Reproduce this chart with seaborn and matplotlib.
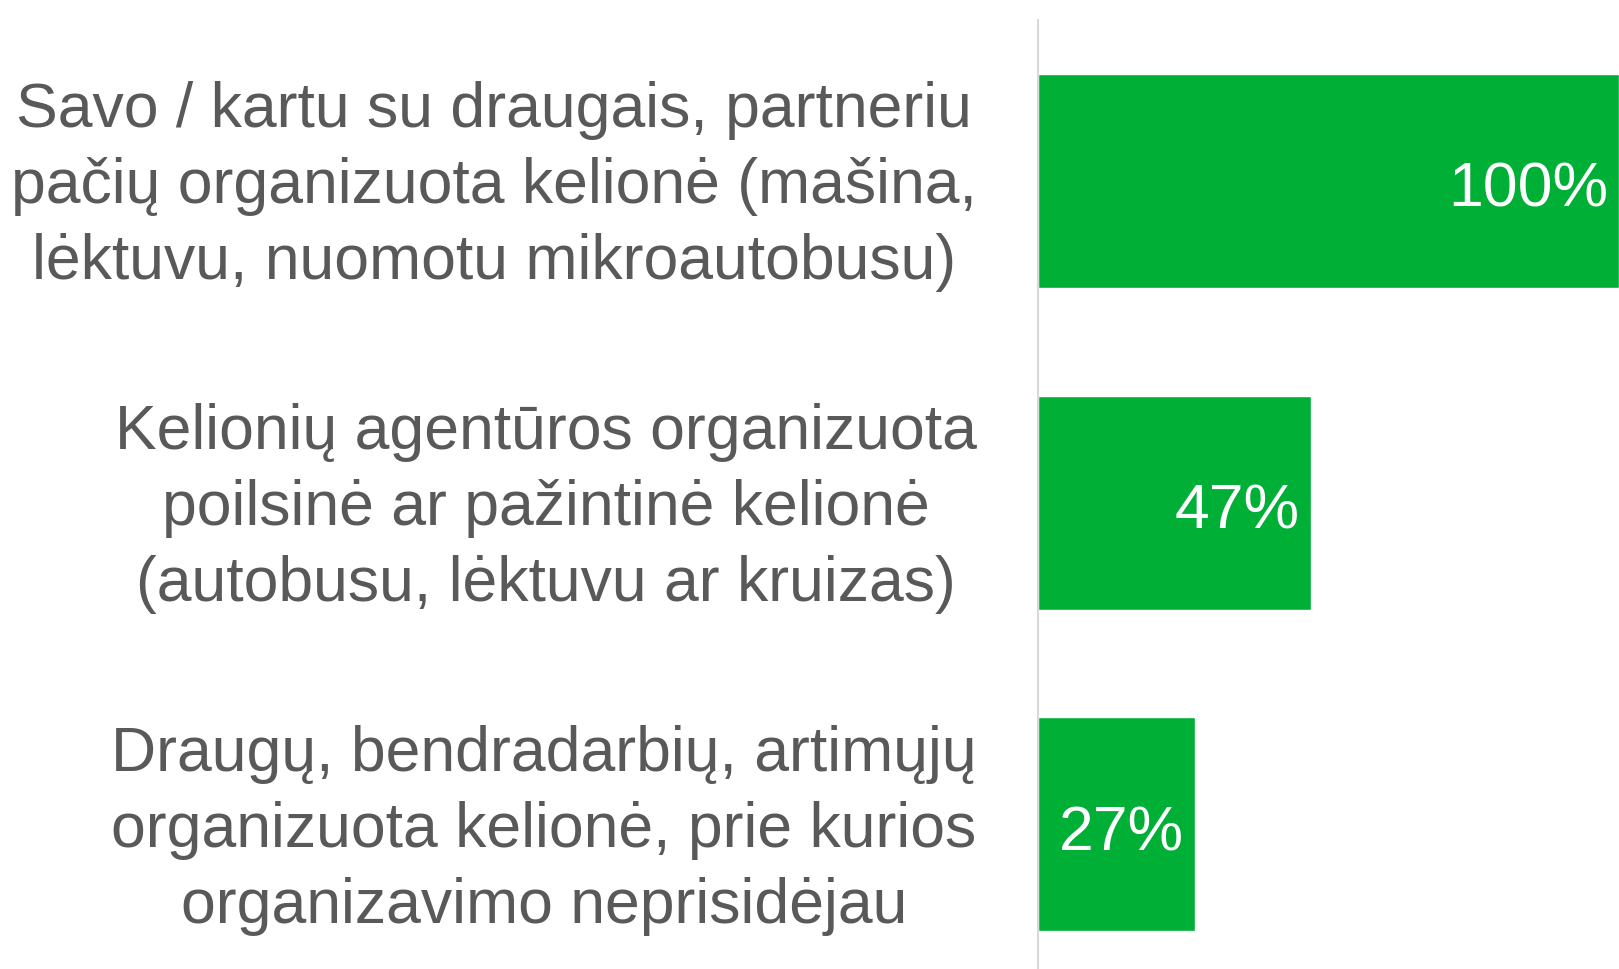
import matplotlib
matplotlib.use("Agg")
import matplotlib.pyplot as plt
import matplotlib.transforms as mtransforms
import seaborn as sns
import pandas as pd

# duomenys
kategorijos = [
    "Savo / kartu su draugais, partneriu\npačių organizuota kelionė (mašina,\nlėktuvu, nuomotu mikroautobusu)",
    "Kelionių agentūros organizuota\npoilsinė ar pažintinė kelionė\n(autobusu, lėktuvu ar kruizas)",
    "Draugų, bendradarbių, artimųjų\norganizuota kelionė, prie kurios\norganizavimo neprisidėjau",
]
reiksmes = [100, 47, 27]
etiketes = ["100%", "47%", "27%"]

sns.set_style("white")
plt.rcParams['font.family'] = ['Liberation Sans', 'DejaVu Sans']

df = pd.DataFrame({"kategorija": kategorijos, "reiksme": reiksmes})

fig = plt.figure(figsize=(16.19, 9.70), dpi=100)
ax = fig.add_axes([1038 / 1619, 0.0, 1 - 1038 / 1619, 1 - 21 / 970])

sns.barplot(data=df, x="reiksme", y="kategorija", orient="h", color="#00B036",
            saturation=1, width=0.665, ax=ax)

ax.set_xlim(0, 100)
ax.set_ylim(2.45, -0.5)
ax.set_xlabel("")
ax.set_ylabel("")
ax.xaxis.set_visible(False)

for s in ["top", "right", "bottom"]:
    ax.spines[s].set_visible(False)
ax.spines["left"].set_color("#d9d9d9")
ax.spines["left"].set_linewidth(1.5)

ax.tick_params(axis="y", length=0, pad=44, labelsize=45, labelcolor="#595959")
pakelti = mtransforms.ScaledTranslation(0, 10 / 100, fig.dpi_scale_trans)
for lbl in ax.get_yticklabels():
    lbl.set_multialignment("center")
    lbl.set_linespacing(1.37)
    lbl.set_transform(lbl.get_transform() + pakelti)

# procentai baru viduje, prie galo
for p, lab in zip(ax.patches, etiketes):
    ax.annotate(lab, (p.get_width(), p.get_y() + p.get_height() / 2),
                xytext=(-8, -6), textcoords="offset points",
                ha="right", va="center", color="white", fontsize=45)

fig.savefig("out.png", dpi=100)
